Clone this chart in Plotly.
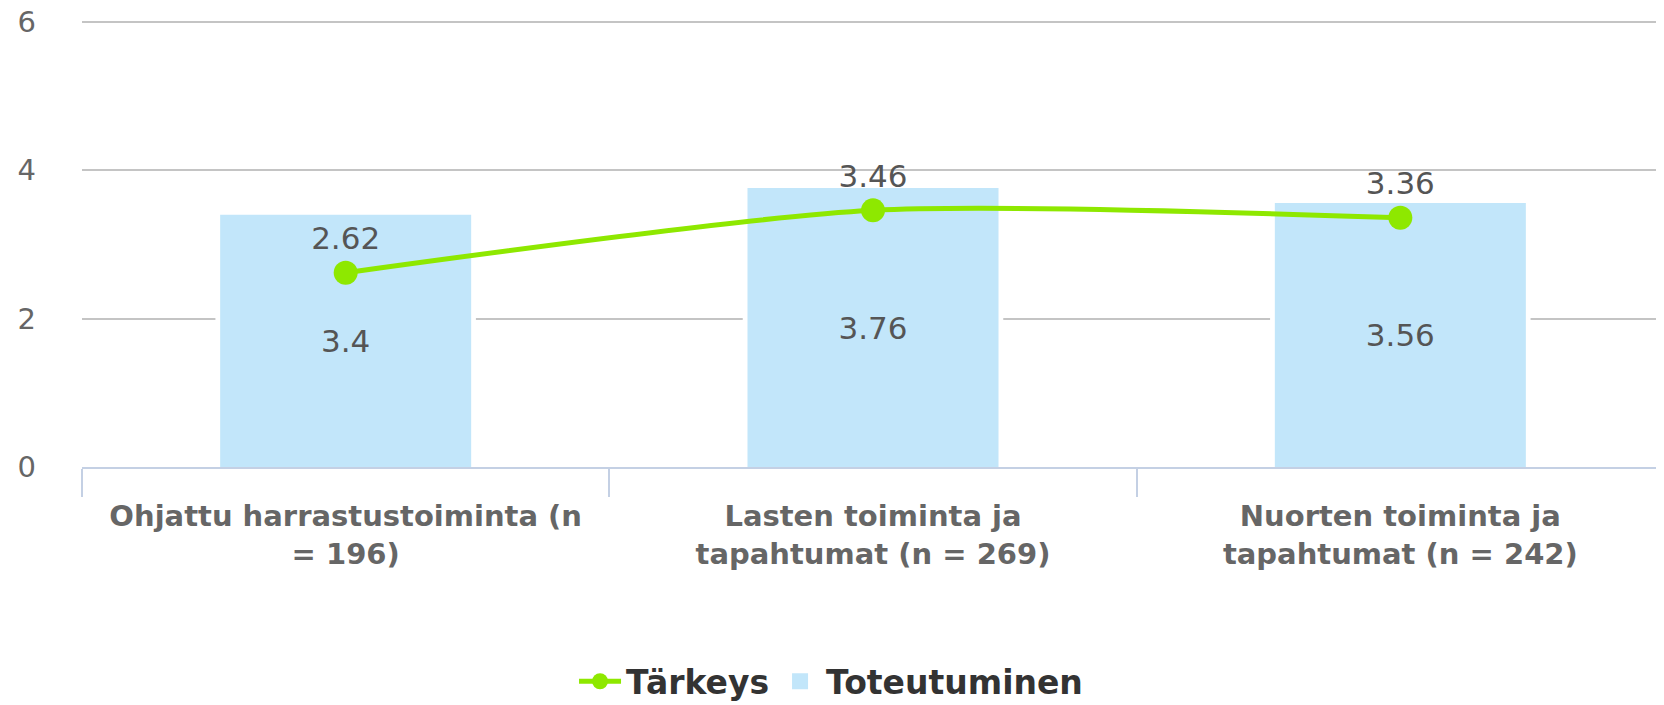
import plotly.graph_objects as go

categories = ["Ohjattu harrastustoiminta (n<br>= 196)",
              "Lasten toiminta ja<br>tapahtumat (n = 269)",
              "Nuorten toiminta ja<br>tapahtumat (n = 242)"]
toteutuminen = [3.4, 3.76, 3.56]
tarkeys = [2.62, 3.46, 3.36]
y_ticks = [0, 2, 4, 6]

FONT = "DejaVu Sans"
GREEN = "#8ee800"
BLUE = "#c2e6fa"
BAR_W = 0.476

fig = go.Figure()
# white halo behind bars (breaks the gridlines next to bars, like the original)
fig.add_trace(go.Bar(
    x=categories, y=toteutuminen, width=BAR_W + 0.018,
    marker=dict(color="white", line=dict(width=0)),
    showlegend=False, hoverinfo="skip",
))
fig.add_trace(go.Bar(
    x=categories, y=toteutuminen, name="Toteutuminen", width=BAR_W,
    marker=dict(color=BLUE, line=dict(width=0)),
    text=[str(v) for v in toteutuminen], textposition="inside",
    insidetextanchor="middle",
    textfont=dict(family=FONT, size=31, color="#555555"),
    showlegend=False, hoverinfo="skip",
))
fig.add_trace(go.Scatter(
    x=categories, y=tarkeys, name="Tärkeys", mode="lines+markers+text",
    line=dict(color=GREEN, width=5, shape="spline", smoothing=0.7),
    marker=dict(color=GREEN, size=24),
    text=[str(v) for v in tarkeys], textposition="top center",
    textfont=dict(family=FONT, size=31, color="#555555"),
    showlegend=True, legendrank=1, hoverinfo="skip",
))
# legend entry for bars (square symbol)
fig.add_trace(go.Scatter(
    x=[None], y=[None], name="Toteutuminen", mode="markers",
    marker=dict(color=BLUE, size=40, symbol="square"),
    showlegend=True, legendrank=2, hoverinfo="skip",
))

fig.update_layout(
    width=1656, height=697,
    margin=dict(l=74, r=0, t=7, b=238),
    plot_bgcolor="white", paper_bgcolor="white",
    barmode="overlay",
    showlegend=True,
    legend=dict(orientation="h", xref="container", yref="container",
                x=0.497, xanchor="center", y=0.034, yanchor="middle",
                font=dict(family=FONT, size=33, color="#333333", weight="bold"),
                itemsizing="trace", itemwidth=42),
    font=dict(family=FONT),
)
fig.update_xaxes(
    automargin=False,
    showline=True, linecolor="#c4d0e4", linewidth=2,
    ticks="outside", tickson="boundaries", ticklen=28, tickcolor="#c4d0e4", tickwidth=2,
    ticklabelstandoff=22,
    tickfont=dict(family=FONT, size=29, color="#666666", weight="bold"),
    showgrid=False,
)
fig.update_yaxes(
    automargin=False, ticklabeloverflow="allow",
    range=[0, 6.094], tickvals=y_ticks, showgrid=True, gridcolor="#c4c4c4", gridwidth=2,
    zeroline=False, ticklabelstandoff=45,
    tickfont=dict(family=FONT, size=29, color="#666666"),
)

fig.write_html("out.html")
